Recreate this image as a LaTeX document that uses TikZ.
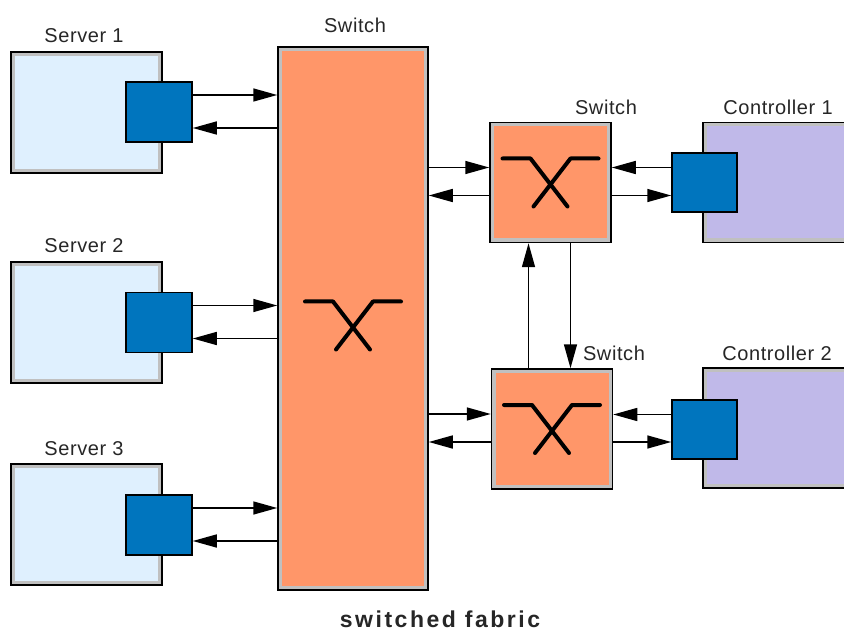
\documentclass[tikz,border=0pt]{standalone}
\usepackage{fontspec}
\setmainfont{Liberation Sans}[LetterSpace=3]
\usetikzlibrary{arrows.meta,positioning}
\definecolor{srvfill}{HTML}{DFF0FE}
\definecolor{bandgray}{HTML}{C0C0C0}
\definecolor{portblue}{HTML}{0075BE}
\definecolor{swfill}{HTML}{FF9669}
\definecolor{ctlfill}{HTML}{C0B9E9}
\definecolor{inkgray}{HTML}{262626}

\newcommand{\fabricx}[1]{%
  \draw[xline,shift={(#1)}] (-48,-24) -- (-20,-24) -- (17,24)
                             (48,-24) -- (20,-24) -- (-17,24);}

\begin{document}
\begin{tikzpicture}[x=1pt,y=-1pt,
  lbl/.style={anchor=base,text=inkgray,font=\fontsize{20}{24}\selectfont},
  banded/.style={draw=black,line width=1.5pt,fill=bandgray,inner sep=0pt,
    path picture={\fill[#1] ([shift={(4pt,4pt)}]path picture bounding box.south west)
      rectangle ([shift={(-4pt,-4pt)}]path picture bounding box.north east);}},
  srvbox/.style={banded=srvfill,minimum width=151pt,minimum height=121pt},
  swbox/.style={banded=swfill,minimum width=121pt,minimum height=120pt},
  ctlbox/.style={banded=ctlfill,minimum width=200pt,minimum height=120pt},
  portbox/.style={draw=black,line width=1.5pt,fill=portblue,inner sep=0pt,
    minimum width=66pt,minimum height=60pt},
  link/.style={line width=1.5pt,-{Triangle[length=24pt,width=13pt]}},
  xline/.style={line width=4pt,line cap=round,line join=round}]
\useasboundingbox (0,0) rectangle (844,631);

% servers and their ports
\node[srvbox] (srv1) at (86.5,112.5) {};
\node[srvbox] (srv2) at (86.5,322.5) {};
\node[srvbox] (srv3) at (86.5,524.5) {};
\node[portbox] (p1) at (159,112) {};
\node[portbox] (p2) at (159,322.5) {};
\node[portbox] (p3) at (159,525) {};
\node[lbl] (t1) at (84,43) {Server 1};
\node[lbl] (t2) at (84,253) {Server 2};
\node[lbl] (t3) at (84,455) {Server 3};

% switches
\node[swbox,minimum width=150pt,minimum height=543pt] (big) at (353,318.5) {};
\node[swbox] (sw1) at (550.5,182.5) {};
\node[swbox] (sw2) at (552,429) {};
\node[lbl] (tbig) at (355,33) {Switch};
\node[lbl] (tsw1) at (606,115) {Switch};
\node[lbl] (tsw2) at (614,360) {Switch};
\fabricx{[yshift=-7pt]big.center}
\fabricx{sw1.center}
\fabricx{sw2.center}

% controllers
\node[ctlbox] (ctl1) at (803,182.5) {};
\node[ctlbox] (ctl2) at (803,428) {};
\node[portbox,minimum width=65pt,minimum height=59pt] (c1) at (704.5,182.5) {};
\node[portbox,minimum width=65pt,minimum height=59pt] (c2) at (704.5,429.5) {};
\node[lbl] (tc1) at (778,115) {Controller 1};
\node[lbl] (tc2) at (777,360) {Controller 2};

\node[anchor=base,text=inkgray,font=\fontsize{23}{27}\selectfont\bfseries\addfontfeature{LetterSpace=11}]
  (cap) at (440,627) {switched fabric};

% links
\foreach \s in {1,2,3}{
  \draw[link] ([yshift=17pt]p\s.east) -- ([yshift=17pt]p\s.east -| big.west);
  \draw[link] ([yshift=-16pt]p\s.east -| big.west) -- ([yshift=-16pt]p\s.east);
}
\foreach \s in {1,2}{
  \draw[link] ([yshift=15pt]sw\s.west -| big.east) -- ([yshift=15pt]sw\s.west);
  \draw[link] ([yshift=-13pt]sw\s.west) -- ([yshift=-13pt]sw\s.west -| big.east);
  \draw[link] ([yshift=15pt]c\s.west) -- ([yshift=15pt]c\s.west -| sw\s.east);
  \draw[link] ([yshift=-13pt]sw\s.east) -- ([yshift=-13pt]sw\s.east -| c\s.west);
}
\draw[link] ([xshift=-22pt]sw1.south |- sw2.north) -- ([xshift=-22pt]sw1.south);
\draw[link] ([xshift=20pt]sw1.south) -- ([xshift=20pt]sw1.south |- sw2.north);
\end{tikzpicture}
\end{document}
